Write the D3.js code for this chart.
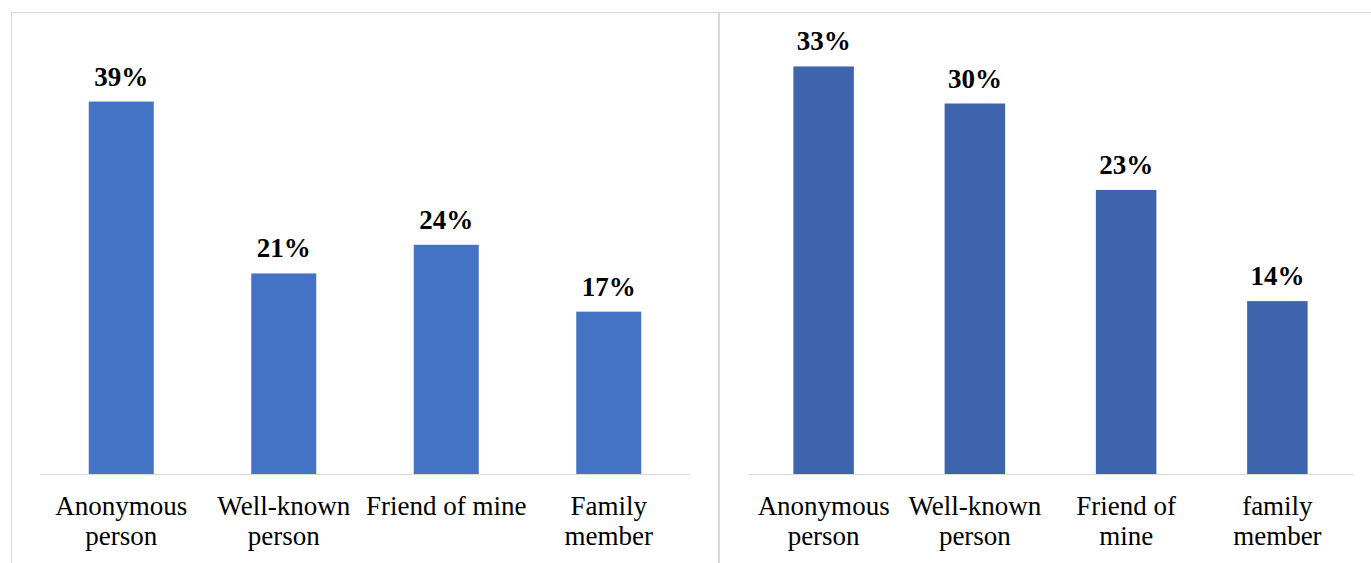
<!DOCTYPE html>
<html>
<head>
<meta charset="utf-8">
<script src="https://cdn.jsdelivr.net/npm/d3@7/dist/d3.min.js"></script>
<style>
  html, body { margin: 0; padding: 0; background: #fff; }
  svg { display: block; }
  text { font-family: "Liberation Serif", "Times New Roman", serif; fill: #000; }
</style>
</head>
<body>
<svg id="chart" width="1371" height="563"></svg>
<script>
// Left panel
const leftCategories = ["Anonymous\nperson", "Well-known\nperson", "Friend of mine", "Family\nmember"];
const leftValues = [39, 21, 24, 17];

// Right panel
const rightCategories = ["Anonymous\nperson", "Well-known\nperson", "Friend of\nmine", "family\nmember"];
const rightValues = [33, 30, 23, 14];

const svg = d3.select("#chart");
const baseY = 474;

// Panel frames
svg.append("rect").attr("x", 11.5).attr("y", 12.5).attr("width", 707).attr("height", 600)
  .attr("fill", "none").attr("stroke", "#d9d9d9").attr("stroke-width", 1);
svg.append("rect").attr("x", 719.5).attr("y", 12.5).attr("width", 700).attr("height", 600)
  .attr("fill", "none").attr("stroke", "#d9d9d9").attr("stroke-width", 1);

function drawPanel(cfg) {
  const x = d3.scaleBand()
    .domain(cfg.categories)
    .range([cfg.x0, cfg.x1])
    .paddingInner(0.6)
    .paddingOuter(0.3);
  const y = d3.scaleLinear()
    .domain([0, cfg.yMax])
    .range([baseY, baseY - cfg.yMax * cfg.pxPerUnit]);

  const g = svg.append("g");
  const data = cfg.categories.map((c, i) => ({ c, v: cfg.values[i] }));

  g.selectAll("rect.bar").data(data).join("rect")
    .attr("class", "bar")
    .attr("x", d => x(d.c))
    .attr("y", d => y(d.v))
    .attr("width", x.bandwidth())
    .attr("height", d => y(0) - y(d.v))
    .attr("fill", cfg.color);

  // Category axis
  const axis = g.append("g")
    .attr("transform", `translate(0,${baseY})`)
    .call(d3.axisBottom(x).tickSize(0).tickPadding(0));
  axis.select(".domain").attr("stroke", "#d9d9d9").attr("stroke-width", 1.2)
    .attr("d", `M${cfg.x0},0.5H${cfg.x1}`);
  axis.selectAll(".tick text").each(function(d) {
    const t = d3.select(this);
    t.text(null)
      .attr("font-size", "27px")
      .attr("font-family", "Liberation Serif, Times New Roman, serif")
      .attr("fill", "#000")
      .attr("dy", null)
      .attr("y", 41);
    d.split("\n").forEach((line, i) => {
      t.append("tspan").attr("x", 0).attr("y", 41 + i * 30).text(line);
    });
  });

  // Value labels
  g.selectAll("text.val").data(data).join("text")
    .attr("class", "val")
    .attr("x", d => x(d.c) + x.bandwidth() / 2)
    .attr("y", d => y(d.v) - 16)
    .attr("text-anchor", "middle")
    .attr("font-size", "27px")
    .attr("font-weight", "bold")
    .text(d => d.v + "%");
}

drawPanel({ categories: leftCategories, values: leftValues, x0: 40, x1: 690,
  yMax: 40, pxPerUnit: 9.55, color: "#4472c4" });
drawPanel({ categories: rightCategories, values: rightValues, x0: 748, x1: 1353,
  yMax: 35, pxPerUnit: 12.35, color: "#3e64ad" });
</script>
</body>
</html>
